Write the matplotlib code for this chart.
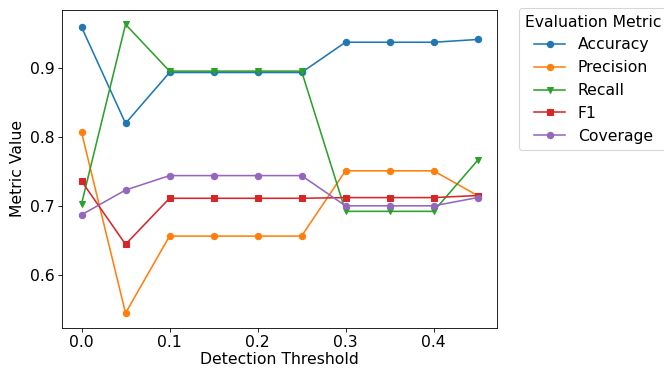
import matplotlib.pyplot as plt

thresholds = [0.0, 0.05, 0.1, 0.15, 0.2, 0.25, 0.3, 0.35, 0.4, 0.45]
accuracy = [0.960, 0.820, 0.894, 0.894, 0.894, 0.894, 0.938, 0.938, 0.938, 0.942]
precision = [0.807, 0.544, 0.656, 0.656, 0.656, 0.656, 0.751, 0.751, 0.751, 0.715]
recall = [0.703, 0.964, 0.896, 0.896, 0.896, 0.896, 0.692, 0.692, 0.692, 0.766]
f1 = [0.736, 0.644, 0.711, 0.711, 0.711, 0.711, 0.712, 0.712, 0.712, 0.715]
coverage = [0.687, 0.723, 0.744, 0.744, 0.744, 0.744, 0.700, 0.700, 0.700, 0.712]

plt.rcParams['font.size'] = 14.8

dpi = 76
fig, ax = plt.subplots(figsize=(664 / dpi, 368 / dpi), dpi=dpi)
ax.plot(thresholds, accuracy, marker='o', label='Accuracy')
ax.plot(thresholds, precision, marker='o', label='Precision')
ax.plot(thresholds, recall, marker='v', label='Recall')
ax.plot(thresholds, f1, marker='s', label='F1')
ax.plot(thresholds, coverage, marker='o', label='Coverage')

ax.set_xlabel('Detection Threshold', labelpad=2)
ax.set_ylabel('Metric Value')
ax.set_yticks([0.6, 0.7, 0.8, 0.9])
ax.legend(title='Evaluation Metric', bbox_to_anchor=(1.05, 1.005), loc='upper left', borderaxespad=0)

fig.subplots_adjust(left=0.093, right=0.749, top=0.973, bottom=0.11)
fig.savefig('out.png', dpi=dpi)
